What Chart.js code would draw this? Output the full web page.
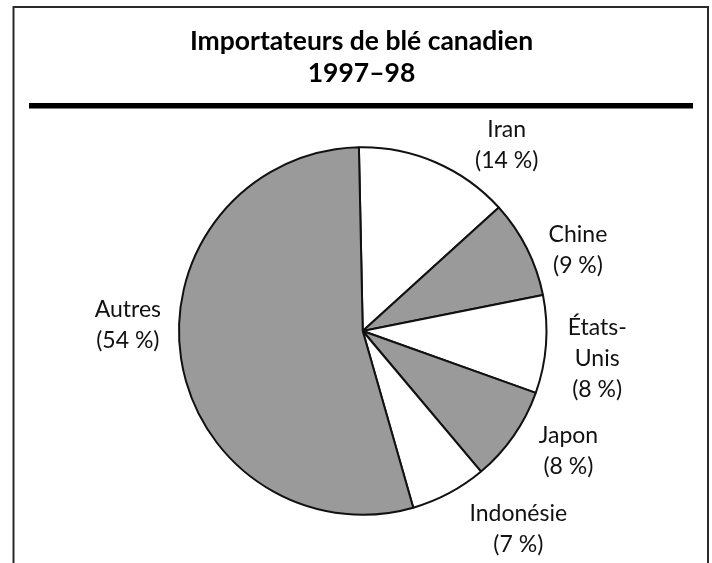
<!DOCTYPE html>
<html>
<head>
<meta charset="utf-8">
<script src="https://cdn.jsdelivr.net/npm/chart.js@4.4.1/dist/chart.umd.min.js"></script>
<style>
  html, body { margin: 0; padding: 0; background: #fff; }
  #wrap { position: relative; width: 712px; height: 563px; }
</style>
</head>
<body>
<div id="wrap"><canvas id="c" width="712" height="563"></canvas></div>
<script>
// ---- data ----
const categories = ["Iran", "Chine", "États-Unis", "Japon", "Indonésie", "Autres"];
const shares = [13.6, 8.6, 8.6, 8.4, 6.7, 54.1];          // slice sizes
const labelLines = [["Iran", "(14 %)"], ["Chine", "(9 %)"], ["États-", "Unis", "(8 %)"],
                    ["Japon", "(8 %)"], ["Indonésie", "(7 %)"], ["Autres", "(54 %)"]];
const titleLines = ["Importateurs de blé canadien", "1997–98"];

// ---- styles / layout ----
const fills = ["#ffffff", "#9a9a9a", "#ffffff", "#9a9a9a", "#ffffff", "#9a9a9a"];
const labelPolar = [[14.5, 235], [6.1, 230], [2.4, 236], [-4.6, 238], [-10.1, 252], [10, 235]]; // [angle shift deg, distance]
const labelFont = "23px Lato";
const lineH = 31;

const decor = {
  id: 'decor',
  beforeDraw(chart) {
    const ctx = chart.ctx;
    ctx.save();
    ctx.strokeStyle = '#2a2a2a';
    ctx.lineWidth = 2;
    ctx.beginPath();
    ctx.moveTo(13.5, 563); ctx.lineTo(13.5, 7); ctx.lineTo(708, 7); ctx.lineTo(708, 563);
    ctx.stroke();
    ctx.fillStyle = '#000';
    ctx.fillRect(29, 103, 664, 5.5);
    ctx.font = "bold 26.5px Lato";
    ctx.textAlign = 'center';
    ctx.textBaseline = 'alphabetic';
    ctx.fillText(titleLines[0], 361.5, 50);
    ctx.fillText(titleLines[1], 361.5, 82);
    ctx.restore();
  },
  afterDraw(chart) {
    const ctx = chart.ctx;
    const meta = chart.getDatasetMeta(0);
    ctx.save();
    ctx.font = labelFont;
    ctx.fillStyle = '#111';
    ctx.textAlign = 'center';
    ctx.textBaseline = 'middle';
    meta.data.forEach((arc, i) => {
      const mid = (arc.startAngle + arc.endAngle) / 2 + labelPolar[i][0] * Math.PI / 180;
      const d = labelPolar[i][1];
      const x = arc.x + d * Math.cos(mid);
      const y = arc.y + d * Math.sin(mid);
      const lines = labelLines[i];
      const y0 = y - (lines.length - 1) * lineH / 2;
      lines.forEach((t, k) => ctx.fillText(t, x, y0 + k * lineH));
    });
    ctx.restore();
  }
};

new Chart(document.getElementById('c'), {
  type: 'pie',
  data: {
    labels: categories,
    datasets: [{
      data: shares,
      backgroundColor: fills,
      borderColor: '#111',
      borderWidth: 2,
      borderAlign: 'center'
    }]
  },
  options: {
    responsive: false,
    animation: false,
    rotation: -1.2,
    layout: { padding: { left: 178, right: 164.5, top: 146, bottom: 47 } },
    plugins: { legend: { display: false }, tooltip: { enabled: false }, title: { display: false } }
  },
  plugins: [decor]
});
</script>
</body>
</html>
